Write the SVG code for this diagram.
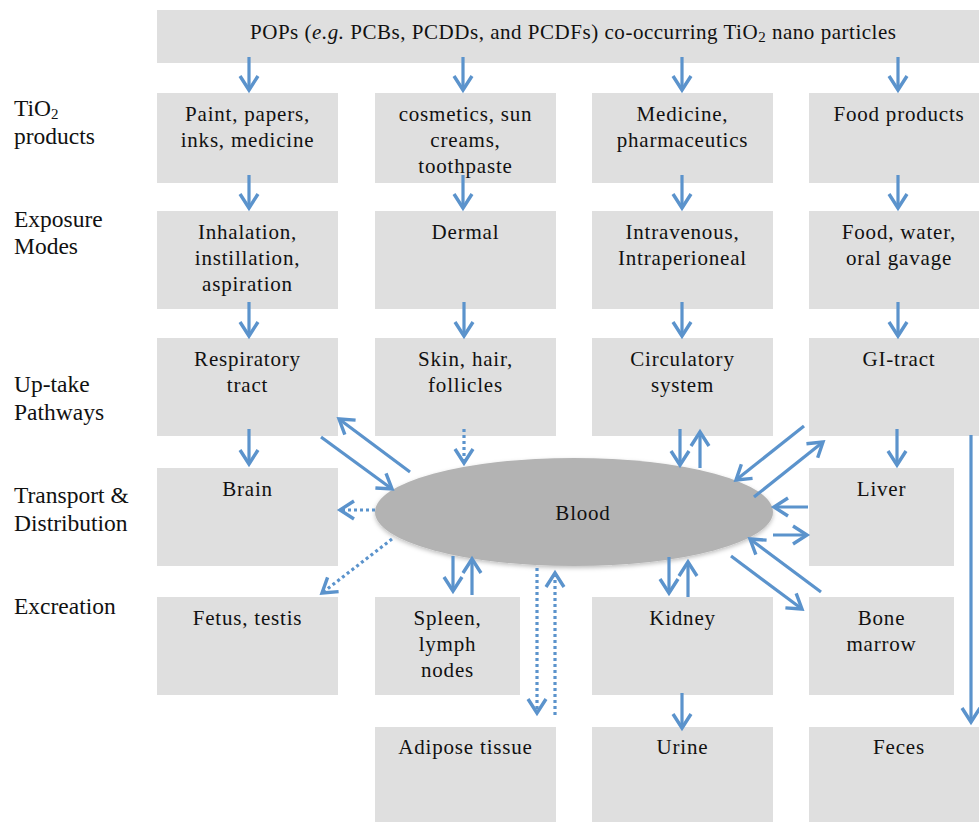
<svg xmlns="http://www.w3.org/2000/svg" width="979" height="822" viewBox="0 0 979 822">
<style>
.box{fill:#dfdfdf}
.t{font-family:"Liberation Serif","Times New Roman",serif;font-size:21px;fill:#111;text-anchor:middle;letter-spacing:0.8px}
.lab{font-family:"Liberation Serif","Times New Roman",serif;font-size:23.5px;fill:#111}
.a{stroke:#5b93cc;stroke-width:3.2;fill:none;marker-end:url(#ah)}
.d{stroke-dasharray:3 3}
</style>
<defs>
<marker id="ah" markerUnits="userSpaceOnUse" viewBox="-20 -15 30 30" refX="0" refY="0" markerWidth="30" markerHeight="30" orient="auto" overflow="visible">
<path d="M-14,-9 L0,0 L-14,9" fill="none" stroke="#5b93cc" stroke-width="3.4" stroke-dasharray="none" stroke-linejoin="miter"/>
</marker>
<filter id="sh" x="-10%" y="-20%" width="120%" height="150%">
<feDropShadow dx="0" dy="2" stdDeviation="2" flood-color="#000" flood-opacity="0.25"/>
</filter>
</defs>
<rect width="979" height="822" fill="#fff"/>

<g id="labels">
<text class="lab" x="14" y="116">TiO<tspan font-size="15" dy="3">2</tspan></text>
<text class="lab" x="14" y="144">products</text>
<text class="lab" x="14" y="227">Exposure</text>
<text class="lab" x="14" y="254">Modes</text>
<text class="lab" x="14" y="392">Up-take</text>
<text class="lab" x="14" y="420">Pathways</text>
<text class="lab" x="14" y="503">Transport &amp;</text>
<text class="lab" x="14" y="531">Distribution</text>
<text class="lab" x="14" y="614">Excreation</text>
</g>

<g id="n-top"><rect class="box" x="157" y="10" width="830" height="53"/>
<text class="t" x="573" y="39" textLength="646" lengthAdjust="spacing" style="letter-spacing:0">POPs (<tspan font-style="italic">e.g.</tspan> PCBs, PCDDs, and PCDFs) co-occurring TiO<tspan font-size="15" dy="3">2</tspan><tspan dy="-3"> nano particles</tspan></text></g>

<g id="n-paint"><rect class="box" x="157" y="93" width="181" height="90"/>
<text class="t" x="247.5" y="121">Paint, papers,</text><text class="t" x="247.5" y="147">inks, medicine</text></g>
<g id="n-cosmetics"><rect class="box" x="375" y="93" width="181" height="90"/>
<text class="t" x="465.5" y="121">cosmetics, sun</text><text class="t" x="465.5" y="147">creams,</text><text class="t" x="465.5" y="173">toothpaste</text></g>
<g id="n-medicine"><rect class="box" x="592" y="93" width="181" height="90"/>
<text class="t" x="682.5" y="121">Medicine,</text><text class="t" x="682.5" y="147">pharmaceutics</text></g>
<g id="n-food"><rect class="box" x="809" y="93" width="181" height="90"/>
<text class="t" x="899" y="121">Food products</text></g>

<g id="n-inhalation"><rect class="box" x="157" y="211" width="181" height="98"/>
<text class="t" x="247.5" y="239">Inhalation,</text><text class="t" x="247.5" y="265">instillation,</text><text class="t" x="247.5" y="291">aspiration</text></g>
<g id="n-dermal"><rect class="box" x="375" y="211" width="181" height="98"/>
<text class="t" x="465.5" y="239">Dermal</text></g>
<g id="n-intravenous"><rect class="box" x="592" y="211" width="181" height="98"/>
<text class="t" x="682.5" y="239">Intravenous,</text><text class="t" x="682.5" y="265">Intraperioneal</text></g>
<g id="n-oral"><rect class="box" x="809" y="211" width="181" height="98"/>
<text class="t" x="899" y="239">Food, water,</text><text class="t" x="899" y="265">oral gavage</text></g>

<g id="n-respiratory"><rect class="box" x="157" y="338" width="181" height="98"/>
<text class="t" x="247.5" y="366">Respiratory</text><text class="t" x="247.5" y="392">tract</text></g>
<g id="n-skin"><rect class="box" x="375" y="338" width="181" height="98"/>
<text class="t" x="465.5" y="366">Skin, hair,</text><text class="t" x="465.5" y="392">follicles</text></g>
<g id="n-circulatory"><rect class="box" x="592" y="338" width="181" height="98"/>
<text class="t" x="682.5" y="366">Circulatory</text><text class="t" x="682.5" y="392">system</text></g>
<g id="n-gi"><rect class="box" x="809" y="338" width="181" height="98"/>
<text class="t" x="899" y="366">GI-tract</text></g>

<g id="n-brain"><rect class="box" x="157" y="468" width="181" height="98"/>
<text class="t" x="247.5" y="496">Brain</text></g>
<g id="n-liver"><rect class="box" x="809" y="468" width="145" height="98"/>
<text class="t" x="881.5" y="496">Liver</text></g>

<g id="n-fetus"><rect class="box" x="157" y="597" width="181" height="98"/>
<text class="t" x="247.5" y="625">Fetus, testis</text></g>
<g id="n-spleen"><rect class="box" x="375" y="597" width="145" height="98"/>
<text class="t" x="447.5" y="625">Spleen,</text><text class="t" x="447.5" y="651">lymph</text><text class="t" x="447.5" y="677">nodes</text></g>
<g id="n-kidney"><rect class="box" x="592" y="597" width="181" height="98"/>
<text class="t" x="682.5" y="625">Kidney</text></g>
<g id="n-bone"><rect class="box" x="809" y="597" width="145" height="98"/>
<text class="t" x="881.5" y="625">Bone</text><text class="t" x="881.5" y="651">marrow</text></g>

<g id="n-adipose"><rect class="box" x="375" y="727" width="181" height="100"/>
<text class="t" x="465.5" y="754">Adipose tissue</text></g>
<g id="n-urine"><rect class="box" x="592" y="727" width="181" height="100"/>
<text class="t" x="682.5" y="754">Urine</text></g>
<g id="n-feces"><rect class="box" x="809" y="727" width="181" height="100"/>
<text class="t" x="899" y="754">Feces</text></g>

<g id="n-blood"><ellipse cx="574" cy="512" rx="199" ry="54" fill="#b3b3b3" filter="url(#sh)"/>
<text class="t" x="583" y="520" font-size="22">Blood</text></g>

<g id="connectors">
<line class="a" x1="249" y1="57" x2="249" y2="90"/>
<line class="a" x1="463" y1="57" x2="463" y2="90"/>
<line class="a" x1="682" y1="57" x2="682" y2="90"/>
<line class="a" x1="898" y1="57" x2="898" y2="90"/>

<line class="a" x1="249" y1="175" x2="249" y2="208"/>
<line class="a" x1="463" y1="175" x2="463" y2="208"/>
<line class="a" x1="682" y1="175" x2="682" y2="208"/>
<line class="a" x1="898" y1="175" x2="898" y2="208"/>

<line class="a" x1="249" y1="302" x2="249" y2="336"/>
<line class="a" x1="464" y1="302" x2="464" y2="336"/>
<line class="a" x1="682" y1="302" x2="682" y2="336"/>
<line class="a" x1="898" y1="302" x2="898" y2="336"/>

<line class="a" x1="249" y1="429" x2="249" y2="464"/>
<line class="a d" x1="464" y1="429" x2="464" y2="463"/>
<line class="a" x1="680" y1="429" x2="680" y2="465"/>
<line class="a" x1="700" y1="468" x2="700" y2="432"/>
<line class="a" x1="897" y1="429" x2="897" y2="465"/>
<line class="a" x1="971" y1="435" x2="971" y2="722"/>

<line class="a" x1="410" y1="472" x2="339" y2="419"/>
<line class="a" x1="321" y1="437" x2="392" y2="489"/>
<line class="a d" x1="375" y1="510" x2="340" y2="510"/>
<line class="a d" x1="392" y1="539" x2="322" y2="593"/>
<line class="a" x1="453" y1="556" x2="453" y2="591"/>
<line class="a" x1="472" y1="595" x2="472" y2="559"/>
<line class="a d" x1="537" y1="568" x2="537" y2="713"/>
<line class="a d" x1="555" y1="715" x2="555" y2="573"/>

<line class="a" x1="804" y1="426" x2="736" y2="480"/>
<line class="a" x1="754" y1="497" x2="823" y2="442"/>
<line class="a" x1="808" y1="507" x2="774" y2="507"/>
<line class="a" x1="773" y1="535" x2="807" y2="535"/>
<line class="a" x1="821" y1="592" x2="750" y2="539"/>
<line class="a" x1="731" y1="556" x2="802" y2="609"/>
<line class="a" x1="669" y1="557" x2="669" y2="593"/>
<line class="a" x1="688" y1="597" x2="688" y2="562"/>
<line class="a" x1="682" y1="693" x2="682" y2="728"/>
</g>
</svg>
